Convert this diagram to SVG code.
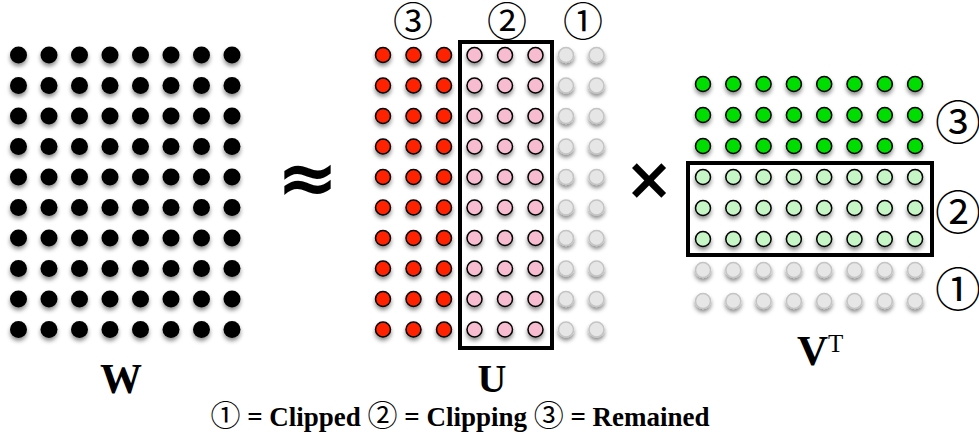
<svg xmlns="http://www.w3.org/2000/svg" xmlns:xlink="http://www.w3.org/1999/xlink" width="979" height="446" viewBox="0 0 979 446">
<style>
.lbl{font-family:"Liberation Serif","Times New Roman",serif;font-weight:bold;fill:#000}
.sup{font-family:"Liberation Serif","Times New Roman",serif;font-weight:normal;fill:#000}
.circ{font-family:"Noto Sans CJK JP","DejaVu Serif",serif;font-weight:normal;fill:#000;text-anchor:middle}
.op{font-family:"DejaVu Sans",sans-serif;font-weight:bold;fill:#000;text-anchor:middle}
.blk{fill:#000}
.red{fill:#ff2200;stroke:#000;stroke-width:1.5}
.pink{fill:#f8bcd0;stroke:#000;stroke-width:1.5}
.gray{fill:#e6e6e6;stroke:#c4c4c4;stroke-width:1.5}
.grn{fill:#00dd00;stroke:#000;stroke-width:1.5}
.lgrn{fill:#c6f5c6;stroke:#000;stroke-width:1.5}
.box{fill:none;stroke:#000;stroke-width:4}
</style>
<defs>
<filter id="sh" x="-10%" y="-10%" width="120%" height="130%">
<feDropShadow dx="0" dy="3" stdDeviation="2" flood-color="#000" flood-opacity="0.45"/>
</filter>
<g id="wrow">
<circle class="blk" cx="18.5" cy="0" r="8.5"/><circle class="blk" cx="49" cy="0" r="8.5"/><circle class="blk" cx="79.5" cy="0" r="8.5"/><circle class="blk" cx="110" cy="0" r="8.5"/><circle class="blk" cx="140.5" cy="0" r="8.5"/><circle class="blk" cx="171" cy="0" r="8.5"/><circle class="blk" cx="201.5" cy="0" r="8.5"/><circle class="blk" cx="232" cy="0" r="8.5"/>
</g>
<g id="urow">
<circle class="red" cx="383" cy="0" r="7.5"/><circle class="red" cx="413.5" cy="0" r="7.5"/><circle class="red" cx="444" cy="0" r="7.5"/><circle class="pink" cx="474.5" cy="0" r="7.5"/><circle class="pink" cx="505" cy="0" r="7.5"/><circle class="pink" cx="535.5" cy="0" r="7.5"/><circle class="gray" cx="566" cy="0" r="7.5"/><circle class="gray" cx="596.5" cy="0" r="7.5"/>
</g>
<g id="vgrn">
<circle class="grn" cx="703" cy="0" r="7.5"/><circle class="grn" cx="733.3" cy="0" r="7.5"/><circle class="grn" cx="763.6" cy="0" r="7.5"/><circle class="grn" cx="793.9" cy="0" r="7.5"/><circle class="grn" cx="824.2" cy="0" r="7.5"/><circle class="grn" cx="854.5" cy="0" r="7.5"/><circle class="grn" cx="884.8" cy="0" r="7.5"/><circle class="grn" cx="915.1" cy="0" r="7.5"/>
</g>
<g id="vlgrn">
<circle class="lgrn" cx="703" cy="0" r="7.5"/><circle class="lgrn" cx="733.3" cy="0" r="7.5"/><circle class="lgrn" cx="763.6" cy="0" r="7.5"/><circle class="lgrn" cx="793.9" cy="0" r="7.5"/><circle class="lgrn" cx="824.2" cy="0" r="7.5"/><circle class="lgrn" cx="854.5" cy="0" r="7.5"/><circle class="lgrn" cx="884.8" cy="0" r="7.5"/><circle class="lgrn" cx="915.1" cy="0" r="7.5"/>
</g>
<g id="vgray">
<circle class="gray" cx="703" cy="0" r="7.5"/><circle class="gray" cx="733.3" cy="0" r="7.5"/><circle class="gray" cx="763.6" cy="0" r="7.5"/><circle class="gray" cx="793.9" cy="0" r="7.5"/><circle class="gray" cx="824.2" cy="0" r="7.5"/><circle class="gray" cx="854.5" cy="0" r="7.5"/><circle class="gray" cx="884.8" cy="0" r="7.5"/><circle class="gray" cx="915.1" cy="0" r="7.5"/>
</g>
</defs>
<rect width="979" height="446" fill="#fff"/>

<g id="matrix-W">
<g filter="url(#sh)">
<use href="#wrow" y="55"/><use href="#wrow" y="85.5"/><use href="#wrow" y="116"/><use href="#wrow" y="146.5"/><use href="#wrow" y="177"/><use href="#wrow" y="207.5"/><use href="#wrow" y="238"/><use href="#wrow" y="268.5"/><use href="#wrow" y="299"/><use href="#wrow" y="329.5"/>
</g>
<text class="lbl" x="121" y="393" font-size="42" text-anchor="middle">W</text>
</g>

<g id="approx">
<text class="op" x="307.5" y="203" font-size="74">≈</text>
</g>

<g id="matrix-U">
<g filter="url(#sh)">
<use href="#urow" y="55"/><use href="#urow" y="85.5"/><use href="#urow" y="116"/><use href="#urow" y="146.5"/><use href="#urow" y="177"/><use href="#urow" y="207.5"/><use href="#urow" y="238"/><use href="#urow" y="268.5"/><use href="#urow" y="299"/><use href="#urow" y="329.5"/>
</g>
<rect class="box" x="460" y="42" width="92" height="306"/>
<text class="circ" x="413" y="36" font-size="40">③</text>
<text class="circ" x="507" y="36" font-size="40">②</text>
<text class="circ" x="583" y="36" font-size="40">①</text>
<text class="lbl" x="492" y="392" font-size="40" text-anchor="middle">U</text>
</g>

<g id="times">
<text class="op" x="649" y="199" font-size="58">×</text>
</g>

<g id="matrix-VT">
<g filter="url(#sh)">
<use href="#vgrn" y="84"/><use href="#vgrn" y="115"/><use href="#vgrn" y="146"/><use href="#vlgrn" y="177"/><use href="#vlgrn" y="208"/><use href="#vlgrn" y="239"/><use href="#vgray" y="270"/><use href="#vgray" y="301"/>
</g>
<rect class="box" x="688" y="163" width="244" height="92"/>
<text class="circ" x="958" y="139" font-size="46">③</text>
<text class="circ" x="958" y="229" font-size="46">②</text>
<text class="circ" x="958" y="306" font-size="46">①</text>
<text x="797" y="365"><tspan class="lbl" font-size="43">V</tspan><tspan class="sup" font-size="25" dy="-13">T</tspan></text>
</g>

<g id="legend">
<text x="460" y="426" text-anchor="middle" font-size="27"><tspan class="circ" font-size="30">①</tspan><tspan class="lbl"> = Clipped </tspan><tspan class="circ" font-size="30">②</tspan><tspan class="lbl"> = Clipping </tspan><tspan class="circ" font-size="30">③</tspan><tspan class="lbl"> = Remained</tspan></text>
</g>
</svg>
